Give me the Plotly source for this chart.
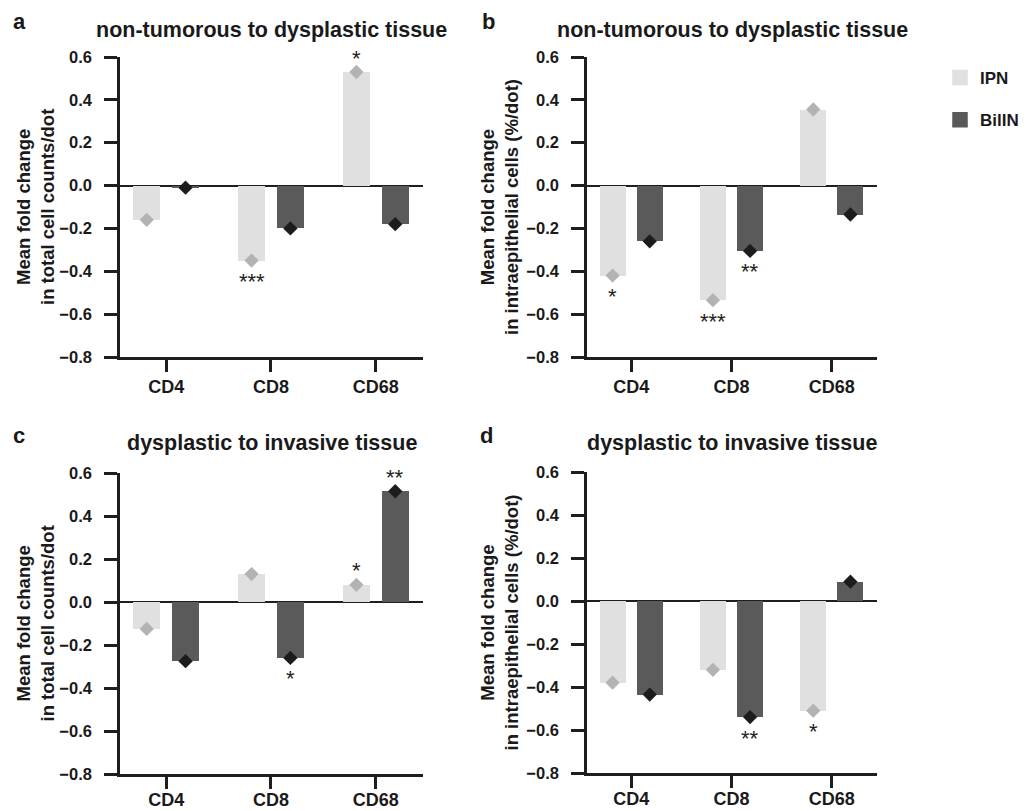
import plotly.graph_objects as go

# ---------------- data ----------------
categories = ["CD4", "CD8", "CD68"]
series_names = ["IPN", "BilIN"]

a_ipn = [-0.16, -0.35, 0.53]
a_bilin = [-0.01, -0.20, -0.18]
b_ipn = [-0.42, -0.535, 0.355]
b_bilin = [-0.26, -0.305, -0.135]
c_ipn = [-0.125, 0.13, 0.08]
c_bilin = [-0.275, -0.26, 0.515]
d_ipn = [-0.38, -0.32, -0.51]
d_bilin = [-0.435, -0.54, 0.09]

a_ipn_sig = ["", "***", "*"]
a_bilin_sig = ["", "", ""]
b_ipn_sig = ["*", "***", ""]
b_bilin_sig = ["", "**", ""]
c_ipn_sig = ["", "", "*"]
c_bilin_sig = ["", "*", "**"]
d_ipn_sig = ["", "", "*"]
d_bilin_sig = ["", "**", ""]

panel_letters = ["a", "b", "c", "d"]
panel_titles = ["non-tumorous to dysplastic tissue", "non-tumorous to dysplastic tissue",
                "dysplastic to invasive tissue", "dysplastic to invasive tissue"]
y_titles = ["Mean fold change<br>in total cell counts/dot",
            "Mean fold change<br>in intraepithelial cells (%/dot)",
            "Mean fold change<br>in total cell counts/dot",
            "Mean fold change<br>in intraepithelial cells (%/dot)"]
y_tick_vals = [-0.8, -0.6, -0.4, -0.2, 0.0, 0.2, 0.4, 0.6]

# ---------------- styling / layout ----------------
PAGE_OFF = 8            # browser body margin
W, H = 1027 - PAGE_OFF, 811 - PAGE_OFF
FONT = "Liberation Sans, Arial, Helvetica, sans-serif"
BAR_COLORS = ["#e0e0e0", "#5a5a5a"]
MARK_COLORS = ["#b3b3b3", "#1c1c1c"]
AXCOL = "#1e1e1e"
TXT = "#1a1a1a"
OFFS = [-0.185, 0.185]
BW = 0.26

# pixel boxes (in window pixels) for each panel: (left, right, top, bottom)
boxes = [(120, 423, 57, 357), (587, 877, 57, 357),
         (120, 423, 473, 774), (587, 877, 472, 773)]
letter_pos = [(19, 22), (488, 22), (19, 435), (486, 435)]
title_y = [30, 30, 443, 443]
ytitle_x = [35, 499, 35, 499]
xlabel_standoff = [0, 0, -4, -4]

def fx(p):
    return (p - PAGE_OFF) / W

def fy(p):
    return 1 - (p - PAGE_OFF) / H

panel_data = [
    (a_ipn, a_bilin, a_ipn_sig, a_bilin_sig),
    (b_ipn, b_bilin, b_ipn_sig, b_bilin_sig),
    (c_ipn, c_bilin, c_ipn_sig, c_bilin_sig),
    (d_ipn, d_bilin, d_ipn_sig, d_bilin_sig),
]

fig = go.Figure()
annotations = []
layout_axes = {}

for p, (ipn, bilin, ipn_sig, bilin_sig) in enumerate(panel_data):
    sfx = "" if p == 0 else str(p + 1)
    xref, yref = "x" + sfx, "y" + sfx
    series = [ipn, bilin]
    sigs = [ipn_sig, bilin_sig]
    for s in range(2):
        xs = [i + OFFS[s] for i in range(len(categories))]
        fig.add_trace(go.Bar(
            x=xs, y=series[s], width=BW, marker=dict(color=BAR_COLORS[s], line=dict(width=0)),
            xaxis=xref, yaxis=yref, showlegend=False, name=series_names[s]))
        fig.add_trace(go.Scatter(
            x=xs, y=series[s], mode="markers", cliponaxis=False,
            marker=dict(symbol="diamond", size=11, color=MARK_COLORS[s], line=dict(width=0)),
            xaxis=xref, yaxis=yref, showlegend=False))
        for i, t in enumerate(sigs[s]):
            if not t:
                continue
            v = series[s][i]
            annotations.append(dict(
                x=xs[i], y=v, xref=xref, yref=yref, text=t, showarrow=False,
                xanchor="center", yanchor="middle",
                yshift=(14 if v > 0 else -21),
                font=dict(family=FONT, size=22, color="#222222")))

    l, r, t_, b = boxes[p]
    layout_axes["xaxis" + sfx] = dict(
        domain=[fx(l), fx(r)], anchor=yref, range=[-0.44, 2.45], automargin=False,
        tickmode="array", tickvals=list(range(len(categories))), ticktext=categories,
        showline=True, linecolor=AXCOL, linewidth=2.5, ticks="outside", ticklen=12,
        tickwidth=2.5, tickcolor=AXCOL, showgrid=False, zeroline=False,
        ticklabelstandoff=xlabel_standoff[p],
        tickfont=dict(family=FONT, size=18, color=TXT, weight="bold"))
    layout_axes["yaxis" + sfx] = dict(
        domain=[fy(b), fy(t_)], anchor=xref, range=[-0.8, 0.6], automargin=False,
        tickmode="array", tickvals=y_tick_vals, tickformat=".1f",
        showline=True, linecolor=AXCOL, linewidth=2.5, ticks="outside", ticklen=13,
        tickwidth=2.5, tickcolor=AXCOL, showgrid=False,
        zeroline=True, zerolinecolor=AXCOL, zerolinewidth=2,
        ticklabelstandoff=9,
        tickfont=dict(family=FONT, size=16.5, color=TXT, weight="bold"))

    # panel title
    annotations.append(dict(
        x=fx((l + r) / 2), y=fy(title_y[p]), xref="paper", yref="paper",
        text=panel_titles[p], showarrow=False, xanchor="center", yanchor="middle",
        font=dict(family=FONT, size=21.5, color=TXT, weight="bold")))
    # panel letter
    annotations.append(dict(
        x=fx(letter_pos[p][0]), y=fy(letter_pos[p][1]), xref="paper", yref="paper",
        text=panel_letters[p], showarrow=False, xanchor="center", yanchor="middle",
        font=dict(family=FONT, size=22, color=TXT, weight="bold")))
    # y title
    annotations.append(dict(
        x=fx(ytitle_x[p]), y=fy((t_ + b) / 2), xref="paper", yref="paper",
        text=y_titles[p], showarrow=False, textangle=-90, align="center",
        xanchor="center", yanchor="middle",
        font=dict(family=FONT, size=18.5, color=TXT, weight="bold")))

# legend entries
for s in range(2):
    fig.add_trace(go.Bar(
        x=[None], y=[None], name=series_names[s], legendgroup=series_names[s],
        marker=dict(color=BAR_COLORS[s], line=dict(color=BAR_COLORS[s], width=3.5)),
        showlegend=True))

fig.update_layout(
    width=W, height=H, margin=dict(l=0, r=0, t=0, b=0, autoexpand=False),
    paper_bgcolor="white", plot_bgcolor="white",
    barmode="overlay", bargap=0,
    annotations=annotations,
    legend=dict(x=fx(940), y=fy(60), xanchor="left", yanchor="top",
                tracegroupgap=17, bgcolor="rgba(0,0,0,0)",
                font=dict(family=FONT, size=17, color=TXT, weight="bold")),
    **layout_axes,
)

fig.write_html("out.html")
